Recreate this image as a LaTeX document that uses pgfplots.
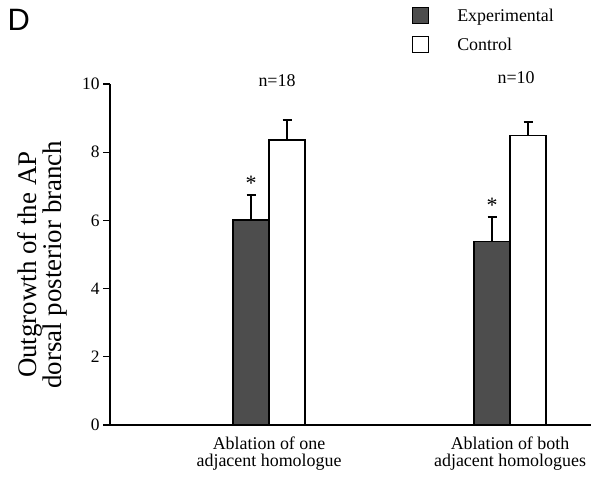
\documentclass[border=0pt]{standalone}
\usepackage{pgfplots}
\pgfplotsset{compat=1.18}
\usepackage{fontspec}
\setmainfont{Liberation Serif}
\newfontfamily\labelsans{Liberation Sans}
\definecolor{expgray}{HTML}{4D4D4D}
\begin{document}
\begin{tikzpicture}[x=1bp,y=1bp]
\useasboundingbox (0,0) rectangle (591,479);
\begin{axis}[
  at={(110bp,54bp)}, anchor=south west,
  scale only axis, width=481bp, height=341bp,
  xmin=0.34, xmax=2.336, ymin=0, ymax=10,
  axis x line=bottom, axis y line=left,
  axis line style={-, line width=1.4bp},
  ytick={0,2,4,6,8,10},
  xtick={1,2},
  xticklabels={{Ablation of one\\adjacent homologue},{Ablation of both\\adjacent homologues}},
  xticklabel style={align=center, font=\fontsize{18}{17}\selectfont, yshift=-1bp},
  x tick style={draw=none},
  y tick style={line width=1.2bp, black},
  tick align=outside, major tick length=7bp,
  yticklabel style={font=\fontsize{17.5}{18}\selectfont},
  /pgf/number format/assume math mode=true,
  ylabel={Outgrowth of the AP\\dorsal posterior branch},
  ylabel style={align=center, font=\fontsize{27}{22}\selectfont, anchor=center,
    at={(axis description cs:-0.141,0.47)}},
  ybar=0pt, bar width=36bp,
  legend style={draw=none, fill=none, inner sep=0pt, outer sep=0pt,
    at={(axis description cs:0.628,1.226)}, anchor=north west,
    font=\fontsize{18}{18}\selectfont, row sep=11bp,
    /tikz/every odd column/.append style={column sep=26bp}},
  legend cell align=left,
  legend image code/.code={\draw[#1, line width=1.2bp] (0bp,-8bp) rectangle (16bp,8bp);},
  clip=false,
]
\addplot[fill=expgray, draw=black, line width=1.2bp,
  error bars/.cd, y dir=plus, y explicit,
  error bar style={line width=1.4bp, black},
  error mark options={rotate=90, line width=1.4bp, mark size=4.5bp, black}]
  coordinates {(1,6.01) +- (0,0.73) (2,5.37) +- (0,0.73)};
\addplot[fill=white, draw=black, line width=1.2bp,
  error bars/.cd, y dir=plus, y explicit,
  error bar style={line width=1.4bp, black},
  error mark options={rotate=90, line width=1.4bp, mark size=4.5bp, black}]
  coordinates {(1,8.36) +- (0,0.58) (2,8.50) +- (0,0.38)};
\legend{Experimental, Control}
\node[font=\fontsize{22}{22}\selectfont] at (axis cs:0.9253,6.74) [above=1bp] {*};
\node[font=\fontsize{22}{22}\selectfont] at (axis cs:1.9253,6.10) [above=1bp] {*};
\node[font=\fontsize{18}{18}\selectfont] at (axis cs:1.033,10.09) {n=18};
\node[font=\fontsize{18}{18}\selectfont] at (axis cs:2.025,10.2) {n=10};
\end{axis}
\node[font=\labelsans\fontsize{31}{31}\selectfont, anchor=north west] at (4bp,473bp) {D};
\end{tikzpicture}
\end{document}
